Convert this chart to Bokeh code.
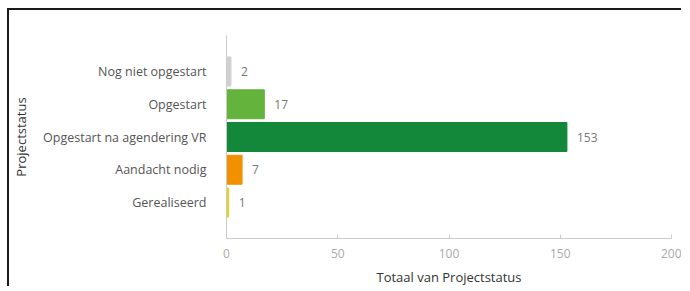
from bokeh.plotting import figure
from bokeh.models import ColumnDataSource, FactorRange, Range1d, LabelSet, FixedTicker
from bokeh.core.properties import value
from bokeh.embed import file_html
from bokeh.resources import INLINE

categories = ["Nog niet opgestart", "Opgestart", "Opgestart na agendering VR", "Aandacht nodig", "Gerealiseerd"]
values = [2, 17, 153, 7, 1]
colors = ["#d0d0d0", "#63b33d", "#13873a", "#f29100", "#e2d21c"]
x_ticks = [0, 50, 100, 150, 200]

src = ColumnDataSource(dict(cat=categories, val=values, col=colors, lbl=[str(v) for v in values]))

FONT = "Open Sans"

p = figure(width=674, height=278, output_backend="svg", toolbar_location=None,
           y_range=FactorRange(factors=list(reversed(categories)), range_padding=0.6,
                               range_padding_units="absolute"),
           x_range=Range1d(0, 200),
           min_border_left=209, min_border_right=12, min_border_top=25, min_border_bottom=49)
# top and left frame lines of the original screenshot
p.styles = {"border-top": "2px solid #1a1a1a", "border-left": "2px solid #1a1a1a",
            "margin-top": "8px", "margin-left": "7px"}

p.hbar(y="cat", right="val", left=0, height=0.885, color="col", source=src)

labels = LabelSet(x="val", y="cat", text="lbl", source=src, x_offset=10, y_offset=0,
                  text_baseline="middle", text_font=value(FONT), text_font_size="12px", text_color="#777777")
p.add_layout(labels)

p.outline_line_color = None
p.xgrid.grid_line_color = None
p.ygrid.grid_line_color = None

xa = p.xaxis[0]
xa.ticker = FixedTicker(ticks=x_ticks)
xa.minor_tick_line_color = None
xa.major_tick_in = 4
xa.major_tick_out = 0
xa.major_tick_line_color = "#cccccc"
xa.axis_line_color = "#cccccc"
xa.major_label_text_font = FONT
xa.major_label_text_font_size = "12px"
xa.major_label_text_color = "#aaaaaa"
xa.major_label_standoff = 10
xa.axis_label = "Totaal van Projectstatus"
xa.axis_label_text_font = FONT
xa.axis_label_text_font_size = "13px"
xa.axis_label_text_font_style = "normal"
xa.axis_label_text_color = "#333333"
xa.axis_label_standoff = 7

ya = p.yaxis[0]
ya.major_tick_line_color = None
ya.minor_tick_line_color = None
ya.axis_line_color = "#cccccc"
ya.major_label_text_font = FONT
ya.major_label_text_font_size = "12.5px"
ya.major_label_text_color = "#555555"
ya.major_label_standoff = 14
ya.axis_label = "Projectstatus"
ya.axis_label_text_font = FONT
ya.axis_label_text_font_size = "13px"
ya.axis_label_text_font_style = "normal"
ya.axis_label_text_color = "#333333"
ya.axis_label_standoff = 10

open("out.html", "w").write(file_html(p, INLINE))
